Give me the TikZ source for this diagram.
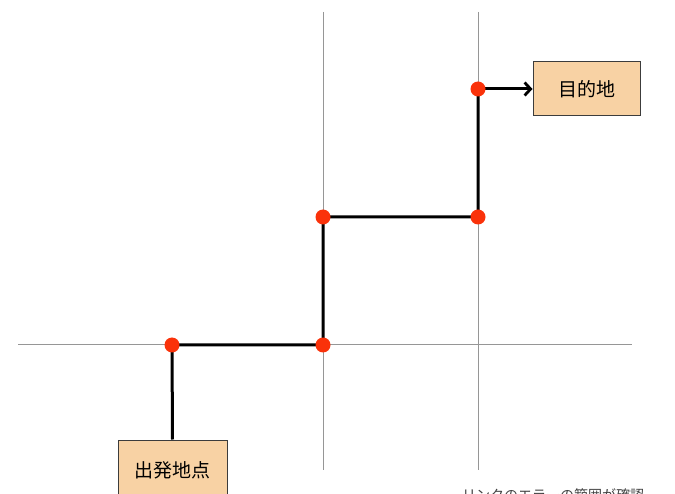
\documentclass[tikz,border=0pt]{standalone}
\usepackage{fontspec}
\newfontfamily\jpfont{Noto Sans CJK JP}
\usetikzlibrary{arrows.meta}
\definecolor{boxfill}{RGB}{248,210,164}
\definecolor{dotred}{RGB}{250,50,10}
\definecolor{gridgrey}{RGB}{150,150,150}
\definecolor{boxline}{RGB}{60,60,60}
\tikzset{
  gridline/.style={draw=gridgrey, line width=1pt},
  route/.style={draw=black, line width=3pt},
  placebox/.style={draw=boxline, line width=1pt, fill=boxfill, font=\jpfont\fontsize{19}{19}\selectfont, inner sep=0pt},
  reddot/.style={circle, fill=dotred, minimum size=15pt, inner sep=0pt},
  caption/.style={font=\jpfont\fontsize{14}{14}\selectfont, text=black!75, inner sep=0pt, anchor=north west}
}
\begin{document}
\begin{tikzpicture}[x=1pt,y=-1pt]
\useasboundingbox (0,0) rectangle (675,494);
\clip (0,0) rectangle (675,494);
% grid lines
\draw[gridline] (323,12) -- (323,470);
\draw[gridline] (478,12) -- (478,470);
\draw[gridline] (18,345) -- (632,345);
% boxes
\node[placebox, minimum width=109pt, minimum height=60pt] (start) at (172.5,470) {出発地点};
\node[placebox, minimum width=107pt, minimum height=54pt] (goal) at (586.5,89) {目的地};
% waypoints
\coordinate (p1) at (172,345);
\coordinate (p2) at (323,345);
\coordinate (p3) at (323,217);
\coordinate (p4) at (478,217);
\coordinate (p5) at (478,89);
% route
\draw[route] (start.north) -- (p1) -- (p2) -- (p3) -- (p4) -- (p5);
\draw[route, -{Straight Barb[length=6pt,width=13pt,line width=2.8pt]}] (p5) -- (goal.west);
% dots
\foreach \p in {p1,p2,p3,p4,p5} \node[reddot] at (\p) {};
% cut-off caption
\node[caption] (cap) at (462,488.5) {リンクのエラーの範囲が確認};
\end{tikzpicture}
\end{document}
